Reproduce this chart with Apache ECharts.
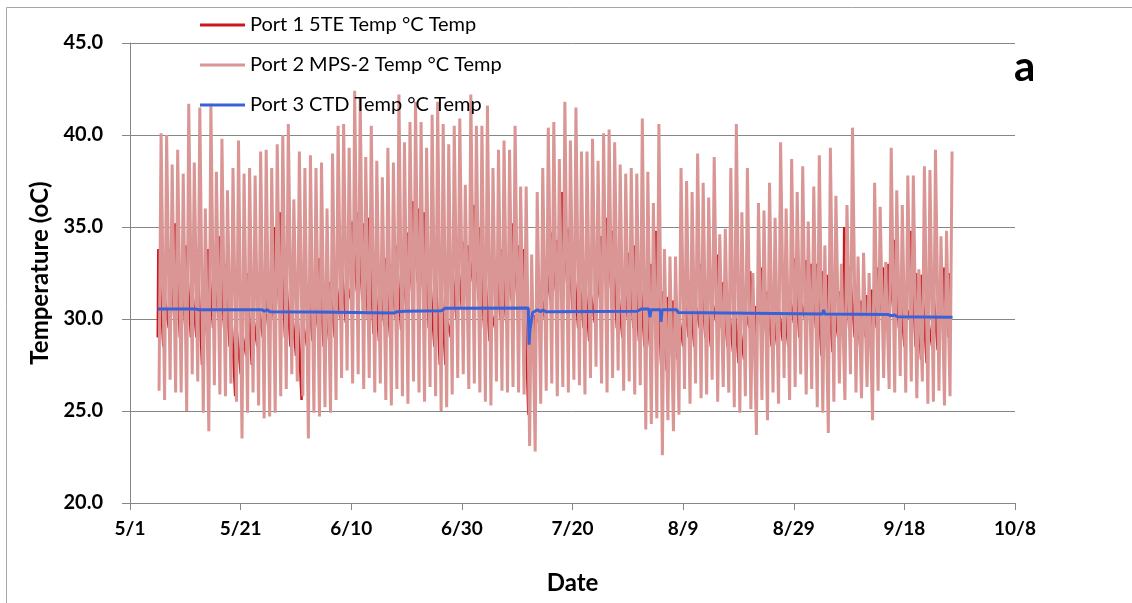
<!DOCTYPE html>
<html><head><meta charset="utf-8">
<script src="https://cdn.jsdelivr.net/npm/echarts@6/dist/echarts.min.js"></script>
<style>html,body{margin:0;padding:0;background:#fff}#c{width:1132px;height:603px}</style>
</head><body><div id="c"></div>
<script>
// ---- data ----
const seriesNames = ['Port 1 5TE Temp °C Temp', 'Port 2 MPS-2 Temp °C Temp', 'Port 3 CTD Temp °C Temp'];
const xTickLabels = ['5/1', '5/21', '6/10', '6/30', '7/20', '8/9', '8/29', '9/18', '10/8'];
const firstDay = 5; // first record: 5/6 (days after 5/1)

// Port 2 (MPS-2) daily maxima / minima, 5/6 .. 9/26
const port2Max = [40.1, 40.0, 38.4, 39.2, 37.9, 41.7, 38.5, 41.5, 36.0, 41.7, 38.0, 39.8, 37.0, 38.2, 39.7, 37.9, 38.2, 37.8, 39.1, 39.2, 38.2, 39.5, 40.0, 40.6, 36.5, 39.1, 38.2, 38.9, 38.2,
  38.5, 36.0, 39.0, 40.5, 40.6, 39.3, 42.4, 42.0, 38.8, 40.5, 38.6, 37.7, 39.3, 38.5, 42.2, 39.6, 40.7, 41.8, 40.7, 39.3, 41.1, 41.8, 40.6, 39.5, 40.5, 40.9, 37.3, 42.2, 40.5, 40.5,
  41.6, 38.2, 39.2, 39.7, 39.2, 40.5, 37.2, 37.2, 33.5, 36.9, 38.2, 40.4, 40.7, 38.7, 41.8, 39.7, 41.5, 39.1, 39.1, 39.8, 38.6, 40.1, 40.3, 39.6, 38.4, 37.9, 38.2, 37.9, 40.9, 38.0,
  36.3, 40.6, 33.8, 33.4, 33.4, 38.2, 37.5, 36.9, 39.0, 37.4, 36.6, 38.8, 34.6, 34.9, 38.2, 40.6, 35.8, 38.2, 32.5, 36.3, 35.9, 37.4, 35.5, 39.6, 36.0, 38.7, 36.9, 38.3, 35.3, 37.2,
  38.9, 34.0, 39.3, 36.7, 33.0, 36.2, 40.4, 33.4, 33.6, 32.5, 37.4, 36.1, 33.1, 39.3, 37.0, 36.2, 37.8, 37.8, 32.7, 38.3, 38.1, 39.2, 34.5, 34.8, 39.1];
const port2Min = [26.1, 25.6, 26.7, 26.0, 26.0, 25.0, 27.0, 26.6, 24.9, 23.9, 26.4, 25.9, 25.8, 26.5, 25.5, 23.5, 24.9, 26.0, 25.3, 24.6, 24.7, 24.9, 25.8, 26.2, 27.0, 26.6, 25.8, 23.5, 24.9,
  24.7, 25.2, 24.9, 25.6, 26.8, 27.2, 26.5, 27.0, 26.2, 26.8, 26.0, 26.5, 25.6, 25.3, 26.2, 25.8, 25.4, 26.6, 26.0, 25.5, 26.3, 25.8, 25.0, 25.2, 25.9, 26.8, 27.0, 26.2, 26.5, 26.0,
  25.5, 25.3, 26.6, 26.1, 26.0, 26.3, 26.0, 25.9, 23.1, 22.8, 25.4, 26.1, 26.5, 25.8, 26.3, 26.0, 26.7, 26.4, 25.9, 26.8, 27.4, 26.5, 26.0, 26.8, 27.2, 26.1, 26.6, 25.9, 26.4, 24.0,
  24.3, 24.6, 22.6, 24.5, 23.9, 24.8, 26.2, 25.4, 26.5, 25.7, 25.9, 26.7, 25.5, 26.3, 26.0, 25.2, 24.9, 25.8, 25.1, 23.7, 25.6, 24.5, 26.0, 25.4, 26.8, 25.6, 26.3, 27.0, 25.9, 26.2,
  25.2, 24.9, 23.8, 25.5, 26.5, 25.6, 27.0, 26.0, 25.7, 26.3, 24.5, 26.1, 26.8, 26.2, 26.0, 26.9, 26.0, 26.6, 25.7, 26.6, 25.4, 25.5, 26.1, 25.3, 25.8];

// Port 1 (5TE) daily maxima / minima
const port1Max = [33.8, 31.5, 33.8, 35.2, 33.0, 34.0, 32.0, 33.8, 31.0, 33.8, 33.0, 34.5, 33.0, 31.5, 30.0, 29.5, 32.5, 30.5, 31.0, 32.2, 32.0, 35.0, 35.8, 32.8, 31.0, 31.5, 30.0, 31.8, 31.5,
  33.3, 31.5, 32.0, 32.5, 33.5, 32.0, 35.3, 35.8, 35.2, 35.5, 33.0, 32.0, 33.3, 33.0, 34.0, 33.2, 34.7, 36.4, 36.0, 35.8, 33.0, 33.5, 32.7, 30.2, 33.3, 33.8, 34.2, 34.0, 36.2, 35.0,
  32.8, 30.6, 33.0, 33.8, 33.2, 35.2, 34.0, 33.8, 30.5, 30.2, 31.8, 33.2, 34.7, 34.3, 36.9, 34.9, 33.5, 32.5, 32.8, 31.8, 33.2, 34.5, 35.5, 34.8, 32.0, 32.2, 33.6, 34.0, 33.0, 31.8,
  33.0, 34.8, 31.5, 31.2, 31.0, 30.5, 31.4, 32.0, 31.0, 33.0, 31.8, 31.2, 33.5, 32.0, 31.2, 31.5, 30.0, 30.5, 32.6, 30.7, 32.8, 31.5, 30.8, 31.0, 31.3, 31.5, 33.3, 31.2, 33.2, 33.0,
  33.0, 32.6, 32.4, 31.2, 31.5, 35.0, 32.8, 31.5, 31.0, 31.3, 31.6, 32.8, 32.8, 33.0, 34.3, 31.8, 30.8, 34.8, 32.5, 32.4, 30.3, 32.0, 31.5, 32.8, 32.5];
const port1Min = [29.0, 28.5, 29.5, 30.0, 29.0, 29.5, 29.0, 29.0, 27.5, 29.0, 29.5, 30.0, 29.5, 28.5, 25.8, 27.0, 28.0, 27.5, 28.5, 29.0, 29.5, 30.0, 30.5, 29.0, 28.5, 28.0, 25.6, 28.5, 28.8,
  29.5, 28.5, 28.8, 29.0, 30.0, 29.8, 31.0, 31.5, 31.0, 30.0, 29.2, 28.8, 29.6, 29.0, 30.0, 29.4, 30.5, 31.5, 32.0, 31.5, 29.5, 28.5, 27.5, 27.5, 29.0, 30.0, 30.5, 31.0, 32.0, 31.0,
  29.5, 28.8, 29.5, 30.0, 29.8, 31.0, 31.2, 30.5, 24.8, 28.8, 29.8, 30.0, 31.0, 31.5, 33.0, 32.0, 30.5, 29.5, 29.5, 28.8, 29.8, 31.0, 32.0, 31.5, 29.5, 29.0, 30.0, 29.5, 28.8, 28.5,
  28.5, 29.5, 27.5, 27.2, 28.0, 27.8, 28.5, 29.0, 28.5, 29.5, 29.0, 28.5, 29.8, 29.5, 28.5, 28.2, 27.6, 27.8, 29.5, 28.5, 29.8, 29.2, 28.5, 28.5, 28.8, 28.5, 29.8, 29.0, 30.0, 30.0,
  29.5, 28.0, 28.5, 28.2, 29.0, 30.0, 29.5, 29.0, 28.5, 29.0, 28.8, 29.5, 30.0, 30.0, 30.5, 29.5, 28.5, 30.0, 28.5, 27.8, 27.6, 28.5, 28.3, 29.5, 29.0];

// Port 3 (CTD): [days after 5/1, °C]
const port3 = [[5.0, 30.55], [11.8, 30.55], [12.1, 30.62], [12.4, 30.5], [23.9, 30.5], [24.3, 30.42], [24.8, 30.5], [25.3, 30.4],
  [33.3, 30.38], [47.8, 30.33], [48.3, 30.4], [49.6, 30.42], [56.3, 30.45], [57.0, 30.58], [72.0, 30.6], [72.15, 28.6], [72.3, 29.4],
  [72.8, 30.35], [73.7, 30.5], [74.2, 30.4], [74.6, 30.48], [75.2, 30.4], [91.7, 30.42], [92.5, 30.55], [93.8, 30.55], [94.0, 30.1],
  [94.2, 30.5], [95.9, 30.5], [96.0, 29.85], [96.2, 30.5], [98.8, 30.5], [99.1, 30.35], [125.2, 30.27], [125.4, 30.5], [125.6, 30.27],
  [137.0, 30.25], [137.5, 30.18], [138.2, 30.22], [138.8, 30.12], [148.7, 30.1]];

// ---- build series (daily min / max placed at their time of day) ----
const s1 = [], s2 = [];
for (let i = 0; i < port2Max.length; i++) {
  const d = firstDay + i;
  s2.push([d + 0.25, port2Min[i]], [d + 0.62, port2Max[i]]);
  s1.push([d + 0.02, port1Min[i]], [d + 0.12, port1Max[i]]);
}
const colors = ['#CC1620', '#D99694', '#3A62D8'];
const FONT = 'Lato';
const chart = echarts.init(document.getElementById('c'), null, {renderer: 'canvas'});
const legendTops = [15, 55, 95];
chart.setOption({
  animation: false,
  backgroundColor: '#fff',
  color: colors,
  grid: {left: 130, right: 117, top: 43, bottom: 100, containLabel: false},
  legend: seriesNames.map((n, k) => ({
    data: [n], left: 200, top: legendTops[k], padding: 0, icon: 'rect', itemWidth: 45, itemHeight: 3, itemGap: 0,
    textStyle: {fontFamily: FONT, fontSize: 20, color: '#000', padding: [0, 0, 0, 0]}, selectedMode: false
  })),
  xAxis: {
    type: 'value', min: 0, max: 160, interval: 20,
    name: 'Date', nameLocation: 'middle', nameGap: 68,
    nameTextStyle: {fontFamily: FONT, fontSize: 24, fontWeight: 'bold', color: '#000'},
    axisLine: {lineStyle: {color: '#868686', width: 1}},
    axisTick: {show: true, length: 7, lineStyle: {color: '#868686'}},
    splitLine: {show: false},
    axisLabel: {fontFamily: FONT, fontSize: 19, fontWeight: 'bold', color: '#000', margin: 16,
      formatter: v => xTickLabels[Math.round(v / 20)]}
  },
  yAxis: {
    type: 'value', min: 20, max: 45, interval: 5,
    name: 'Temperature (oC)', nameLocation: 'middle', nameGap: 73,
    nameTextStyle: {fontFamily: FONT, fontSize: 24, fontWeight: 'bold', color: '#000'},
    axisLine: {show: true, lineStyle: {color: '#868686', width: 1}},
    axisTick: {show: true, length: 8, lineStyle: {color: '#868686'}},
    splitLine: {show: true, lineStyle: {color: '#868686', width: 1}},
    axisLabel: {fontFamily: FONT, fontSize: 20, fontWeight: 'bold', color: '#000', margin: 27,
      formatter: v => v.toFixed(1)}
  },
  series: [
    {name: seriesNames[0], type: 'line', data: s1, showSymbol: false, lineStyle: {width: 2.5, color: colors[0]}, itemStyle: {color: colors[0]}, z: 2},
    {name: seriesNames[1], type: 'line', data: s2, showSymbol: false, lineStyle: {width: 3, color: colors[1]}, itemStyle: {color: colors[1]}, z: 3},
    {name: seriesNames[2], type: 'line', data: port3, showSymbol: false, lineStyle: {width: 3, color: colors[2]}, itemStyle: {color: colors[2]}, z: 4}
  ],
  graphic: [
    {type: 'rect', shape: {x: 6.5, y: 7.5, width: 1200, height: 700}, style: {fill: 'none', stroke: '#a6a6a6', lineWidth: 1}, silent: true, z: 0},
    {type: 'text', left: 1014, top: 46, style: {text: 'a', font: 'bold 42px Lato', fill: '#000'}, z: 10}
  ]
});
</script></body></html>
